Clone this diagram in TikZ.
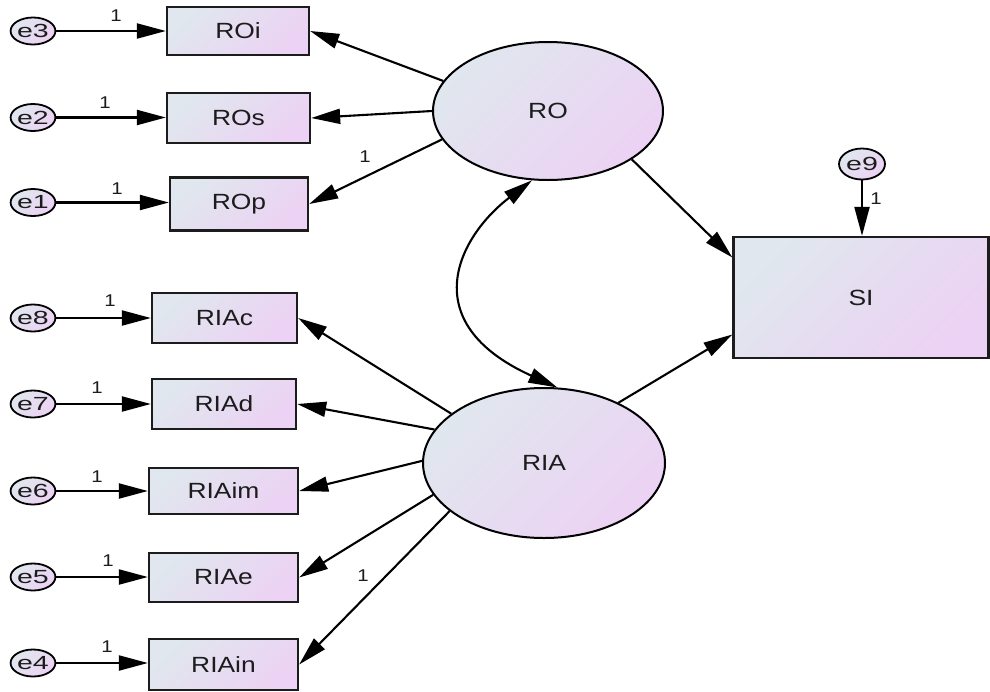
\documentclass[tikz,border=0pt]{standalone}
\usepackage{fontspec}
\usetikzlibrary{arrows.meta,shapes.geometric}
\newfontfamily\boxfont[FakeStretch=1.2]{Liberation Sans}
\newfontfamily\errfont[FakeStretch=1.5]{Liberation Sans}
\definecolor{shadeA}{RGB}{224,231,238}
\definecolor{shadeB}{RGB}{236,210,244}
\definecolor{inkgray}{RGB}{28,28,28}
\tikzset{
  gradfill/.style={top color=shadeA, bottom color=shadeB, shading angle=45},
  obsbox/.style={draw=inkgray, line width=2.3pt, gradfill, rectangle, inner sep=0pt,
    font=\boxfont\fontsize{22}{26}\selectfont, text=inkgray},
  latent/.style={draw=black, line width=2pt, gradfill, ellipse, inner sep=0pt,
    font=\boxfont\fontsize{22}{26}\selectfont, text=inkgray},
  errnode/.style={draw=black, line width=1.8pt, gradfill, ellipse, inner sep=0pt,
    minimum width=42pt, minimum height=27pt,
    font=\errfont\fontsize{19}{21}\selectfont, text=inkgray},
  path1/.style={draw=black, line width=2.1pt, -{Triangle[length=29pt,width=15pt]}},
  path2/.style={draw=black, line width=2.1pt,
    {Triangle[length=29pt,width=15pt]}-{Triangle[length=29pt,width=15pt]}},
  onelbl/.style={font=\boxfont\fontsize{17}{19}\selectfont, text=inkgray, inner sep=0pt}
}
\begin{document}
\begin{tikzpicture}[x=1pt,y=-1pt]
\useasboundingbox (0,0) rectangle (990,691);
\fill[white] (0,0) rectangle (990,691);

% indicator boxes of RO
\node[obsbox, minimum width=142pt, minimum height=48pt] (ROi) at (238,31) {ROi};
\node[obsbox, minimum width=143pt, minimum height=50pt] (ROs) at (238.5,118) {ROs};
\node[obsbox, minimum width=138pt, minimum height=53pt] (ROp) at (239,204) {ROp};

% indicator boxes of RIA
\node[obsbox, minimum width=145pt, minimum height=50pt] (RIAc) at (224.5,318) {RIAc};
\node[obsbox, minimum width=144pt, minimum height=50pt] (RIAd) at (224,404) {RIAd};
\node[obsbox, minimum width=149pt, minimum height=46pt] (RIAim) at (223.5,491) {RIAim};
\node[obsbox, minimum width=149pt, minimum height=49pt] (RIAe) at (223.5,577.5) {RIAe};
\node[obsbox, minimum width=149pt, minimum height=51pt] (RIAin) at (223.5,664.5) {RIAin};

% outcome
\node[obsbox, minimum width=255pt, minimum height=121pt] (SI) at (861,297.5) {SI};

% latent variables
\node[latent, minimum width=230pt, minimum height=138pt] (RO) at (548,111) {RO};
\node[latent, minimum width=242pt, minimum height=150pt] (RIA) at (544,463) {RIA};

% error terms
\node[errnode] (e3) at (33,31) {e3};
\node[errnode] (e2) at (33,117.5) {e2};
\node[errnode] (e1) at (33,202.5) {e1};
\node[errnode] (e8) at (33,318) {e8};
\node[errnode] (e7) at (33,404) {e7};
\node[errnode] (e6) at (33,491) {e6};
\node[errnode] (e5) at (33,577) {e5};
\node[errnode] (e4) at (33,663) {e4};
\node[errnode, minimum width=46pt, minimum height=31pt] (e9) at (862,164) {e9};

% error paths
\draw[path1] (e3) -- (e3 -| ROi.west);
\draw[path1] (e2) -- (e2 -| ROs.west);
\draw[path1] (e1) -- (e1 -| ROp.west);
\draw[path1] (e8) -- (e8 -| RIAc.west);
\draw[path1] (e7) -- (e7 -| RIAd.west);
\draw[path1] (e6) -- (e6 -| RIAim.west);
\draw[path1] (e5) -- (e5 -| RIAe.west);
\draw[path1] (e4) -- (e4 -| RIAin.west);
\draw[path1] (e9) -- (e9 |- SI.north);

% loadings
\draw[path1] (RO.164.7) -- (ROi.east);
\draw[path1] (RO.180) -- (ROs.east);
\draw[path1] (RO.195) -- (ROp.east);
\draw[path1] (RIA.152) -- (RIAc.east);
\draw[path1] (RIA.163.4) -- (RIAd.east);
\draw[path1] (RIA.179) -- (RIAim.east);
\draw[path1] (RIA.196) -- (RIAe.east);
\draw[path1] (RIA.207.5) -- (RIAin.east);

% structural paths
\draw[path1] (RO.330.5) -- ([yshift=40pt]SI.west);
\draw[path1] (RIA.39) -- ([yshift=-37pt]SI.west);

% covariance
\draw[path2] (RO.257) .. controls (459,236) and (413,322) .. (RIA.80.5);

% fixed parameters
\node[onelbl] (w3) at (116,16) {1};
\node[onelbl] (w2) at (105,103) {1};
\node[onelbl] (w1) at (117,189) {1};
\node[onelbl] (w8) at (110,301) {1};
\node[onelbl] (w7) at (97,388) {1};
\node[onelbl] (w6) at (97,477) {1};
\node[onelbl] (w5) at (108,561) {1};
\node[onelbl] (w4) at (107,647) {1};
\node[onelbl] (w9) at (876,199) {1};
\node[onelbl] (wp) at (365,157) {1};
\node[onelbl] (wn) at (363,576) {1};
\end{tikzpicture}
\end{document}
